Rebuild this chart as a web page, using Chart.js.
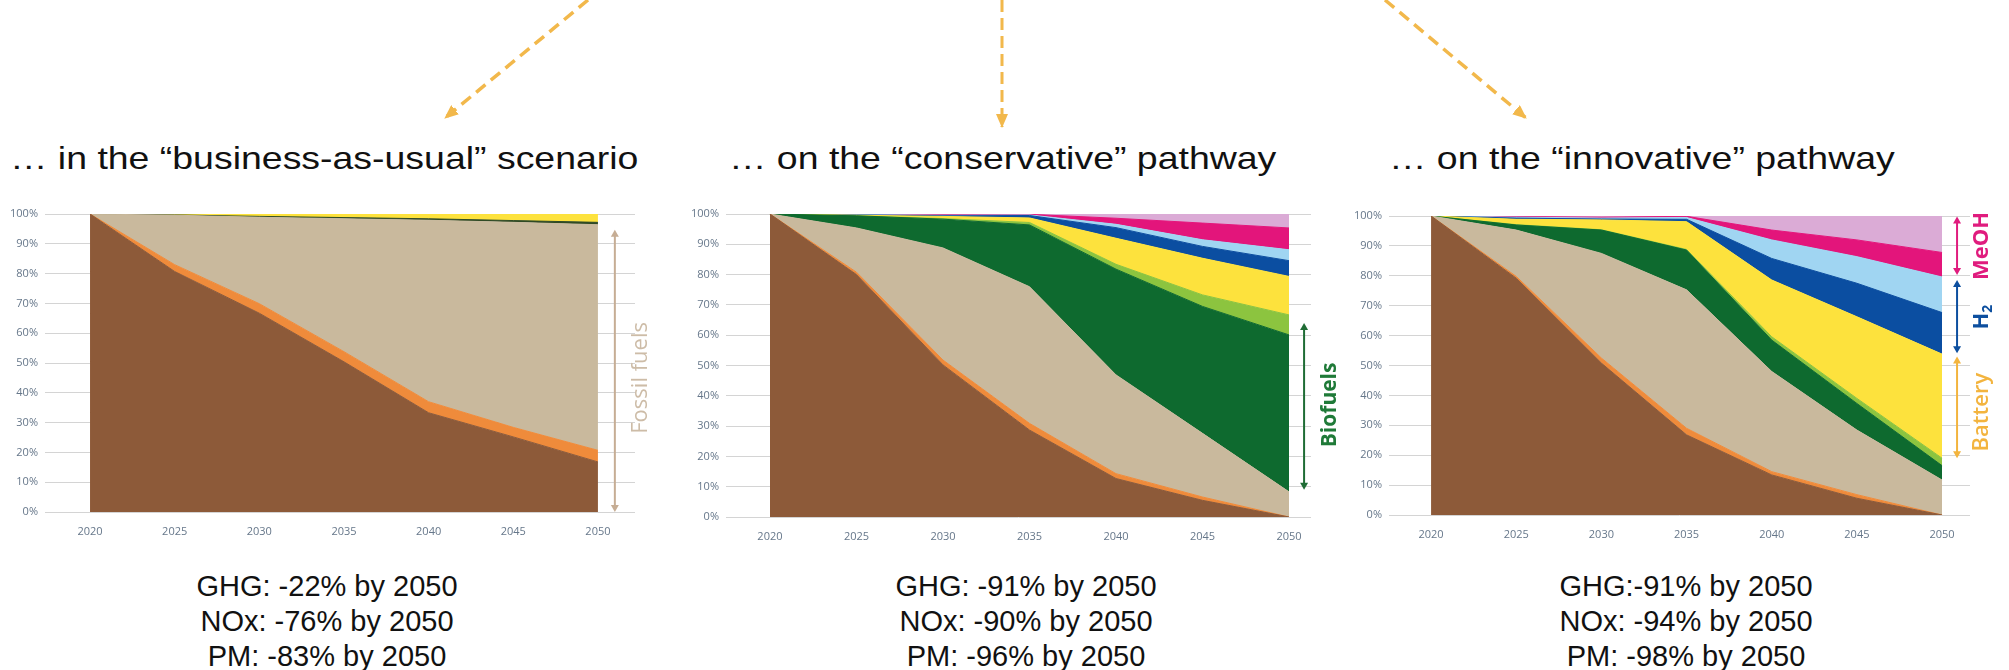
<!DOCTYPE html>
<html>
<head>
<meta charset="utf-8">
<script src="https://cdn.jsdelivr.net/npm/chart.js@4.4.0/dist/chart.umd.min.js"></script>
<style>
  html, body { margin: 0; padding: 0; background: #fff; }
  body { width: 2009px; height: 670px; position: relative; overflow: hidden; font-family: "Liberation Sans", Arial, sans-serif; }
  .box { position: absolute; top: 190px; height: 360px; }
  .title { position: absolute; top: 138px; font-size: 32px; line-height: 40px; color: #111; white-space: nowrap; transform: scaleX(1.17); transform-origin: left center; }
  .stats { position: absolute; top: 569px; width: 400px; text-align: center; font-size: 29px; line-height: 35px; color: #111; }
  svg.overlay { position: absolute; left: 0; top: 0; }
</style>
</head>
<body>

<svg class="overlay" width="2009" height="200">
  <defs>
    <marker id="ah" markerWidth="14" markerHeight="12" refX="13" refY="6" orient="auto" markerUnits="userSpaceOnUse">
      <path d="M0,0 L14,6 L0,12 z" fill="#f2b84b"/>
    </marker>
  </defs>
  <line x1="588" y1="0" x2="445" y2="118" stroke="#f2b84b" stroke-width="3.5" stroke-dasharray="12 7" marker-end="url(#ah)"/>
  <line x1="1002" y1="0" x2="1002" y2="127" stroke="#f2b84b" stroke-width="3" stroke-dasharray="12 6" marker-end="url(#ah)"/>
  <line x1="1385" y1="0" x2="1526" y2="118" stroke="#f2b84b" stroke-width="3.5" stroke-dasharray="12 7" marker-end="url(#ah)"/>
</svg>

<div class="title" style="left:10px">… in the “business-as-usual” scenario</div>
<div class="title" style="left:729px">… on the “conservative” pathway</div>
<div class="title" style="left:1389px">… on the “innovative” pathway</div>

<div class="box" style="left:0px; width:680px"><canvas id="bauChart" width="680" height="360"></canvas></div>
<div class="box" style="left:680px; width:680px"><canvas id="consChart" width="680" height="360"></canvas></div>
<div class="box" style="left:1340px; width:669px"><canvas id="innoChart" width="669" height="360"></canvas></div>

<div class="stats" id="bauStats" style="left:127px"></div>
<div class="stats" id="consStats" style="left:826px"></div>
<div class="stats" id="innoStats" style="left:1486px"></div>

<script>
// Years on the x axis
const years = [2020, 2025, 2030, 2035, 2040, 2045, 2050];

// Business-as-usual: fleet energy share in %, layers from bottom to top
const bauBrown     = [100, 80.7, 66.7, 50.4, 33.3, 25.2, 16.8];
const bauOrange    = [0, 2.3, 3.2, 3.4, 3.7, 3.2, 3.9];
const bauBeige     = [0, 16.6, 29.0, 44.6, 60.9, 68.8, 75.7];
const bauDarkGreen = [0, 0.1, 0.3, 0.4, 0.5, 0.6, 0.8];
const bauYellow    = [0, 0.3, 0.8, 1.2, 1.6, 2.2, 2.8];

// Conservative pathway
const consBrown      = [100, 80, 50.2, 28.7, 12.7, 5.5, 0];
const consOrange     = [0, 0.8, 1.6, 2.2, 1.6, 1.1, 0];
const consBeige      = [0, 14.6, 37, 45.1, 32.6, 21, 8.3];
const consDarkGreen  = [0, 4, 9.5, 20.4, 34.9, 41.9, 51.8];
const consLightGreen = [0, 0, 0.2, 0.8, 1.6, 3.8, 6.6];
const consYellow     = [0, 0.2, 0.7, 1.5, 8.6, 12.1, 12.7];
const consDarkBlue   = [0, 0.1, 0.2, 0.8, 3.5, 3.9, 5.2];
const consLightBlue  = [0, 0.1, 0.2, 0.2, 1.1, 2.2, 3.6];
const consMagenta    = [0, 0.1, 0.2, 0.2, 2, 5.5, 7.2];
const consLilac      = [0, 0.1, 0.2, 0.1, 1.4, 3, 4.6];

// Innovative pathway
const innoBrown      = [100, 79.2, 50.8, 26.8, 13.4, 5.6, 0];
const innoOrange     = [0, 0.6, 1.7, 2.2, 1.1, 1.2, 0];
const innoBeige      = [0, 15.5, 35, 46.3, 33.5, 21.6, 11.7];
const innoDarkGreen  = [0, 1.7, 7.8, 13.3, 10.5, 8.9, 4.8];
const innoLightGreen = [0, 0.1, 0.1, 0.2, 1.1, 1.7, 2.5];
const innoYellow     = [0, 1.8, 3.3, 9.3, 19, 27.3, 34.8];
const innoDarkBlue   = [0, 0.4, 0.3, 0.8, 7.2, 11.2, 13.9];
const innoLightBlue  = [0, 0.3, 0.3, 0.6, 6.2, 8.9, 11.9];
const innoMagenta    = [0, 0.2, 0.3, 0.4, 3.3, 5.6, 8.2];
const innoLilac      = [0, 0.2, 0.4, 0.1, 4.7, 8, 12.2];

// Summary lines under each chart
const bauStats  = ['GHG: -22% by 2050', 'NOx: -76% by 2050', 'PM: -83% by 2050'];
const consStats = ['GHG: -91% by 2050', 'NOx: -90% by 2050', 'PM: -96% by 2050'];
const innoStats = ['GHG:-91% by 2050', 'NOx: -94% by 2050', 'PM: -98% by 2050'];

const colors = {
    brown: '#8d5a39',
    orange: '#ef8b3b',
    beige: '#c9b99d',
    darkGreen: '#0e6a2f',
    lightGreen: '#8cc43f',
    yellow: '#fde23d',
    darkBlue: '#0b4ea1',
    lightBlue: '#a0d5f2',
    magenta: '#e3157b',
    lilac: '#dbabd6'
};

const tickFont = { family: '"Open Sans", sans-serif', size: 11 };
const tickColor = '#66778a';

// Double headed vertical arrow
function drawArrow(ctx, x, yTop, yBottom, color) {
    const head = 7;
    ctx.save();
    ctx.strokeStyle = color;
    ctx.fillStyle = color;
    ctx.lineWidth = 2;
    ctx.beginPath();
    ctx.moveTo(x, yTop + head - 1);
    ctx.lineTo(x, yBottom - head + 1);
    ctx.stroke();
    ctx.beginPath();
    ctx.moveTo(x, yTop);
    ctx.lineTo(x - 4, yTop + head);
    ctx.lineTo(x + 4, yTop + head);
    ctx.fill();
    ctx.beginPath();
    ctx.moveTo(x, yBottom);
    ctx.lineTo(x - 4, yBottom - head);
    ctx.lineTo(x + 4, yBottom - head);
    ctx.fill();
    ctx.restore();
}

// Rotated label, reading bottom to top; optional subscript
function drawLabel(ctx, x, y, text, sub, font, subFont, color) {
    ctx.save();
    ctx.translate(x, y);
    ctx.rotate(-Math.PI / 2);
    ctx.fillStyle = color;
    ctx.textBaseline = 'middle';
    ctx.font = font;
    const w = ctx.measureText(text).width;
    let wSub = 0;
    if (sub) {
        ctx.font = subFont;
        wSub = ctx.measureText(sub).width;
    }
    const start = -(w + wSub) / 2;
    ctx.font = font;
    ctx.textAlign = 'left';
    ctx.fillText(text, start, 0);
    if (sub) {
        ctx.font = subFont;
        ctx.fillText(sub, start + w, 6);
    }
    ctx.restore();
}

function sideNotes(notes) {
    return {
        id: 'sideNotes',
        afterDraw(chart) {
            const { ctx, scales: { x, y } } = chart;
            notes.forEach(n => {
                drawArrow(ctx, x.getPixelForValue(n.arrowX), y.getPixelForValue(n.from), y.getPixelForValue(n.to), n.color);
                drawLabel(ctx, x.getPixelForValue(n.textX), y.getPixelForValue(n.textY), n.text, n.sub, n.font, n.subFont, n.textColor);
            });
        }
    };
}

function makeChart(id, layers, frame, notes) {
    const ctx = document.getElementById(id).getContext('2d');
    return new Chart(ctx, {
        type: 'line',
        data: {
            datasets: layers.map((layer, i) => ({
                data: years.map((yr, j) => ({ x: yr, y: layer[0][j] })),
                backgroundColor: layer[1],
                borderColor: layer[1],
                borderWidth: 1,
                fill: i === 0 ? 'origin' : '-1',
                pointRadius: 0,
                tension: 0
            }))
        },
        options: {
            responsive: false,
            animation: false,
            events: [],
            layout: { padding: { left: 0, top: frame.top, right: frame.right, bottom: frame.bottom } },
            plugins: { legend: { display: false }, tooltip: { enabled: false } },
            scales: {
                x: {
                    type: 'linear',
                    min: frame.xMin,
                    max: frame.xMax,
                    afterBuildTicks: s => { s.ticks = years.map(v => ({ value: v })); },
                    afterFit: s => { s.height = 30; },
                    grid: { display: false },
                    border: { display: false },
                    ticks: { padding: 5, font: tickFont, color: tickColor, callback: v => String(v) }
                },
                y: {
                    stacked: true,
                    min: 0,
                    max: 100,
                    afterFit: s => { s.width = frame.yWidth; },
                    grid: { color: '#d4d4d4', drawTicks: false },
                    border: { display: false },
                    ticks: { stepSize: 10, padding: 7, font: tickFont, color: tickColor, callback: v => v + '%' }
                }
            }
        },
        plugins: [sideNotes(notes)]
    });
}

// Business-as-usual chart
makeChart('bauChart', [
    [bauBrown, colors.brown],
    [bauOrange, colors.orange],
    [bauBeige, colors.beige],
    [bauDarkGreen, '#2f4a24'],
    [bauYellow, colors.yellow]
], { top: 24, right: 45, bottom: 8, yWidth: 45, xMin: 2017.34, xMax: 2052.19 }, [
    { arrowX: 2051.0, from: 94.7, to: 0, color: '#c6ad94',
      textX: 2052.5, textY: 45, text: 'Fossil fuels', font: '22px "Open Sans"', textColor: '#cdbca7' }
]);

// Conservative pathway chart
makeChart('consChart', [
    [consBrown, colors.brown],
    [consOrange, colors.orange],
    [consBeige, colors.beige],
    [consDarkGreen, colors.darkGreen],
    [consLightGreen, colors.lightGreen],
    [consYellow, colors.yellow],
    [consDarkBlue, colors.darkBlue],
    [consLightBlue, colors.lightBlue],
    [consMagenta, colors.magenta],
    [consLilac, colors.lilac]
], { top: 24, right: 49, bottom: 3, yWidth: 46, xMin: 2017.46, xMax: 2051.27 }, [
    { arrowX: 2050.87, from: 64, to: 9, color: '#1f6c35',
      textX: 2052.37, textY: 37, text: 'Biofuels', font: 'bold 21px "Open Sans"', textColor: '#1f7a38' }
]);

// Innovative pathway chart
makeChart('innoChart', [
    [innoBrown, colors.brown],
    [innoOrange, colors.orange],
    [innoBeige, colors.beige],
    [innoDarkGreen, colors.darkGreen],
    [innoLightGreen, colors.lightGreen],
    [innoYellow, colors.yellow],
    [innoDarkBlue, colors.darkBlue],
    [innoLightBlue, colors.lightBlue],
    [innoMagenta, colors.magenta],
    [innoLilac, colors.lilac]
], { top: 26, right: 39, bottom: 5, yWidth: 49, xMin: 2017.53, xMax: 2051.64 }, [
    { arrowX: 2050.88, from: 99.8, to: 80.3, color: '#e01c7e',
      textX: 2052.35, textY: 90, text: 'MeOH', font: 'bold 22px "Open Sans"', textColor: '#e01c7e' },
    { arrowX: 2050.88, from: 78.6, to: 54.1, color: '#0d4f9f',
      textX: 2052.35, textY: 66.2, text: 'H', sub: '2', font: 'bold 22px "Open Sans"', subFont: 'bold 14px "Open Sans"', textColor: '#0d4f9f' },
    { arrowX: 2050.88, from: 53, to: 19, color: '#f3b43e',
      textX: 2052.35, textY: 34.4, text: 'Battery', font: '600 22px "Open Sans"', textColor: '#f3b43e' }
]);

// Summary text
document.getElementById('bauStats').innerHTML = bauStats.join('<br>');
document.getElementById('consStats').innerHTML = consStats.join('<br>');
document.getElementById('innoStats').innerHTML = innoStats.join('<br>');
</script>
</body>
</html>
